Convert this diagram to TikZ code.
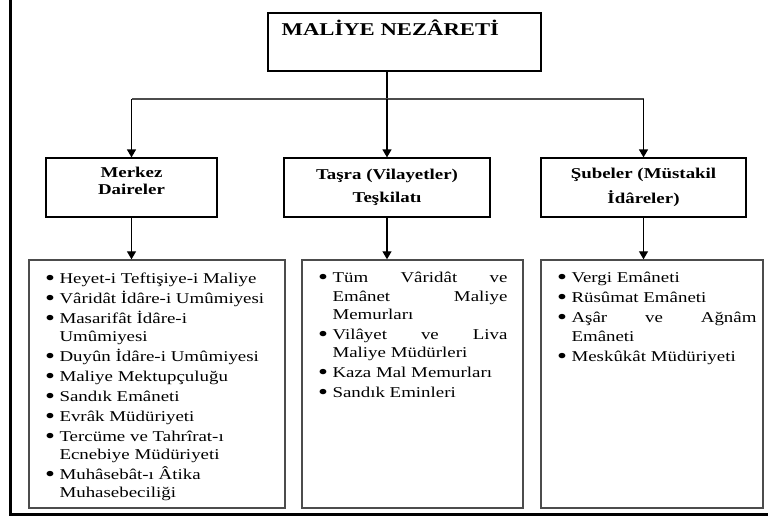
\documentclass[tikz,border=0pt]{standalone}
\usepackage{fontspec}
\setmainfont{Liberation Serif}[FakeStretch=1.26]
\usetikzlibrary{
  arrows.meta,
  positioning,
}
\tikzstyle{arrow} = [
  -{Triangle[width=9pt,length=8pt]},
  line width=1.2pt,
  black,
]
\tikzstyle{link} = [line width=1.2pt,black]
\tikzstyle{unit} = [rectangle,draw,line width=1.2pt,align=center,
  font=\bfseries\fontsize{15}{17}\selectfont]
\tikzstyle{list} = [rectangle,draw=black!70,line width=1.4pt]
\tikzstyle{items} = [anchor=north west,inner sep=0pt,align=left,
  font=\fontsize{15}{18.3}\selectfont]
\newcommand{\itm}[1]{\makebox[16pt][l]{\hspace{1.5pt}\smash{\raisebox{-2pt}{\scalebox{1.5}{\textbullet}}}}#1}
\newcommand{\cnt}[1]{\hspace*{16pt}#1}
\newcommand{\jst}[2]{\makebox[#1][s]{#2}}

\begin{document}
\begin{tikzpicture}[x=1pt,y=-1pt]
      \useasboundingbox (0,0) rectangle (768,517);
      \draw[line width=3pt] (10,0) -- (10,514.5) -- (768,514.5);

      \node[unit,minimum width=273,minimum height=58] (nez) at (404.5,42) {};
      \node[anchor=base west,inner sep=0pt,font=\bfseries\fontsize{18}{22}\selectfont] (nezt)
        at ([shift={(14,23)}]nez.north west) {MALİYE NEZÂRETİ};

      \node[unit,minimum width=171,minimum height=59] (mrk) at (131.5,187.5) {Merkez\\Daireler\\[-3pt]};
      \node[unit,minimum width=206,minimum height=59] (tas) at (387,187.5) {Taşra (Vilayetler)\\[6pt]Teşkilatı};
      \node[unit,minimum width=205,minimum height=59] (sub) at (643.5,187.5) {Şubeler (Müstakil\\[8pt]İdâreler)};

      \node[list,minimum width=256,minimum height=248] (lst1) at (157,384) {};
      \node[list,minimum width=221,minimum height=248] (lst2) at (412.5,384) {};
      \node[list,minimum width=222,minimum height=248] (lst3) at (652,384) {};

      \node[items] (itm1) at ([shift={(15,13)}]lst1.north west) {%
        \itm{Heyet-i Teftişiye-i Maliye}\\[1.7pt]
        \itm{Vâridât İdâre-i Umûmiyesi}\\[1.7pt]
        \itm{Masarifât İdâre-i}\\
        \cnt{Umûmiyesi}\\[1.7pt]
        \itm{Duyûn İdâre-i Umûmiyesi}\\[1.7pt]
        \itm{Maliye Mektupçuluğu}\\[1.7pt]
        \itm{Sandık Emâneti}\\[1.7pt]
        \itm{Evrâk Müdüriyeti}\\[1.7pt]
        \itm{Tercüme ve Tahrîrat-ı}\\
        \cnt{Ecnebiye Müdüriyeti}\\[1.7pt]
        \itm{Muhâsebât-ı Âtika}\\
        \cnt{Muhasebeciliği}};
      \node[items] (itm2) at ([shift={(15,13)}]lst2.north west) {%
        \itm{\jst{175pt}{Tüm Vâridât ve}}\\
        \cnt{\jst{175pt}{Emânet Maliye}}\\
        \cnt{Memurları}\\[1.7pt]
        \itm{\jst{175pt}{Vilâyet ve Liva}}\\
        \cnt{Maliye Müdürleri}\\[1.7pt]
        \itm{Kaza Mal Memurları}\\[1.7pt]
        \itm{Sandık Eminleri}};
      \node[items] (itm3) at ([shift={(15,13)}]lst3.north west) {%
        \itm{Vergi Emâneti}\\[1.7pt]
        \itm{Rüsûmat Emâneti}\\[1.7pt]
        \itm{\jst{185pt}{Aşâr ve Ağnâm}}\\
        \cnt{Emâneti}\\[1.7pt]
        \itm{Meskûkât Müdüriyeti}};

      \coordinate (bus) at (387,99);
      \draw[link] (nez.south -| tas) -- (bus);
      \draw[link,black!70,line width=1.5pt] (bus -| mrk) -- (bus -| sub);

      \draw[arrow] (bus -| mrk) -- (mrk.north);
      \draw[arrow] (bus) -- (tas.north);
      \draw[arrow] (bus -| sub) -- (sub.north);

      \draw[arrow] (mrk.south) -- (mrk.south |- lst1.north);
      \draw[arrow] (tas.south) -- (tas.south |- lst2.north);
      \draw[arrow] (sub.south) -- (sub.south |- lst3.north);
\end{tikzpicture}
\end{document}
